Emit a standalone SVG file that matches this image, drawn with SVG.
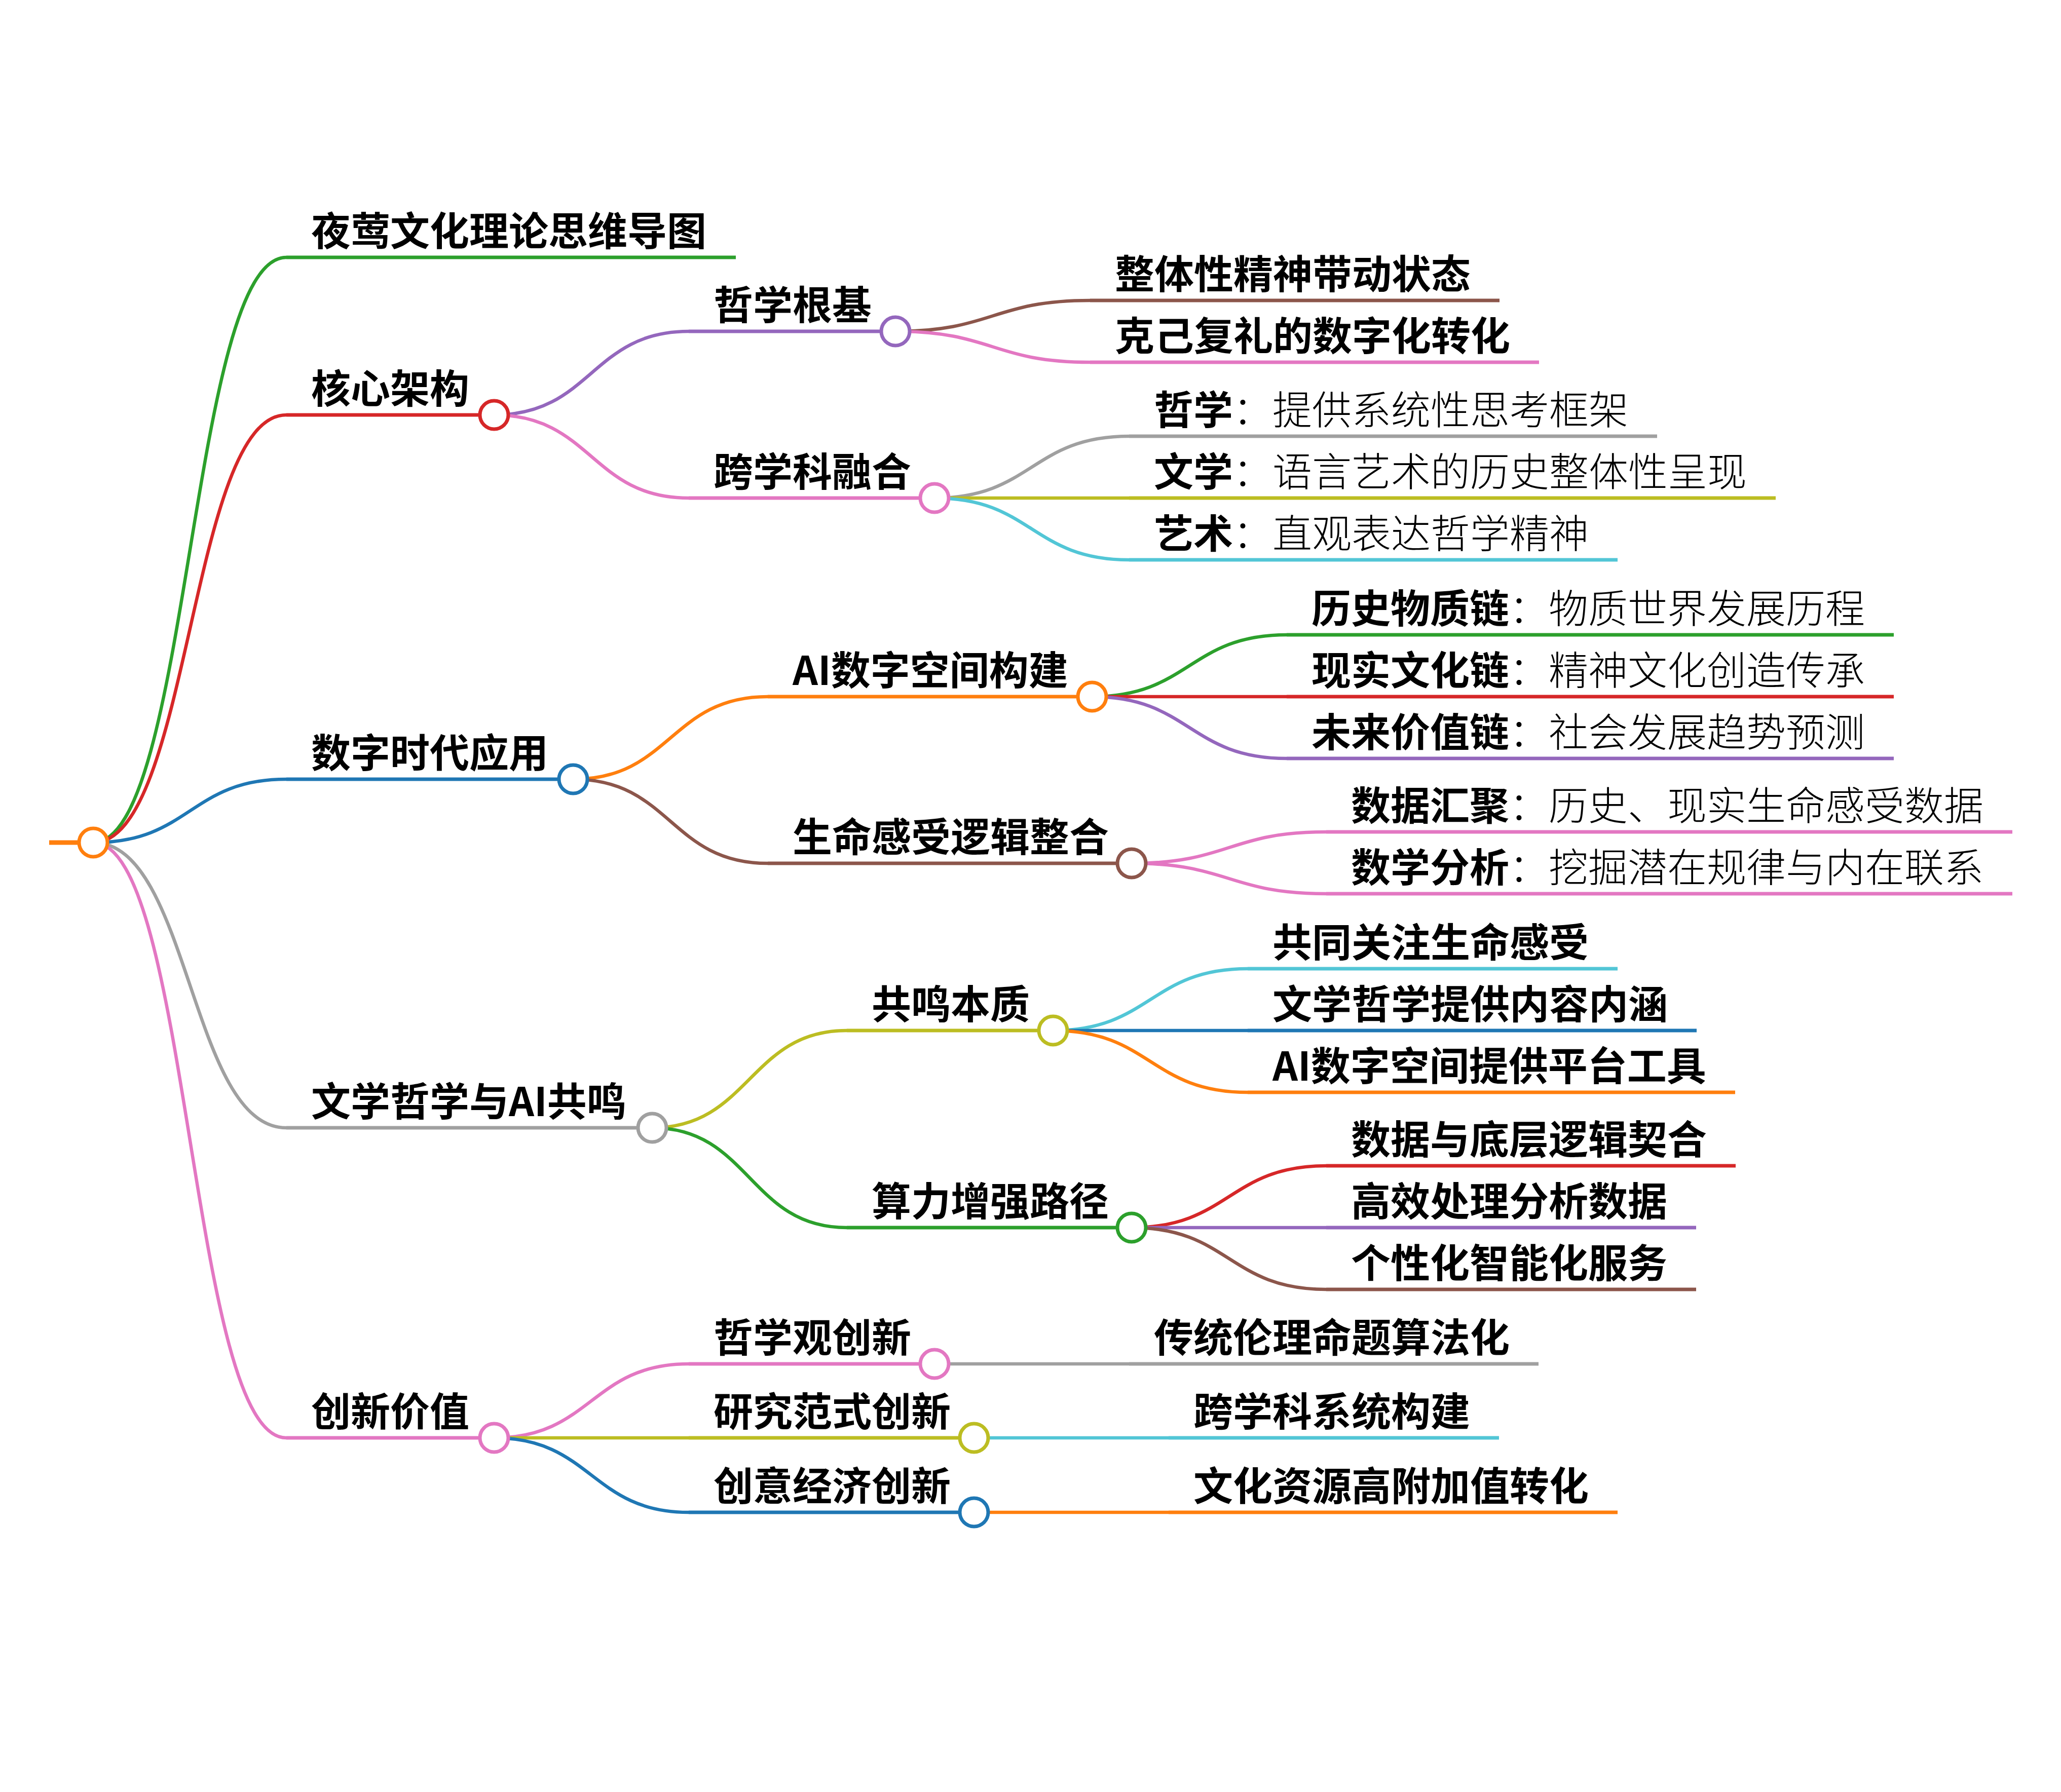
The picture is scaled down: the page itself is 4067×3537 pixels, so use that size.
<svg xmlns="http://www.w3.org/2000/svg" width="4067" height="3537" viewBox="0 0 4067 3537">
<style>
text{font-family:"Noto Sans CJK SC","Noto Sans",sans-serif;font-size:78px;font-weight:700;fill:#000}
.r{font-weight:300}
.ln{fill:none;stroke-width:7;stroke-linecap:butt}
.lk{fill:none;stroke-width:6.5}
circle{fill:#fff;stroke-width:7}
.c0{stroke:#1f77b4}.c1{stroke:#ff7f0e}.c2{stroke:#2ca02c}.c3{stroke:#d62728}.c4{stroke:#9467bd}
.c5{stroke:#8c564b}.c6{stroke:#e377c2}.c7{stroke:#a0a0a0}.c8{stroke:#bcbd22}.c9{stroke:#52c6d6}
</style>
<rect width="4067" height="3537" fill="#fff"/>
<g id="connectors">
<path class="lk c2" d="M184,1663 C375,1663 375,508 565,508"/>
<path class="lk c3" d="M184,1663 C375,1663 375,819 565,819"/>
<path class="lk c0" d="M184,1663 C375,1663 375,1538 565,1538"/>
<path class="lk c7" d="M184,1663 C375,1663 375,2226 565,2226"/>
<path class="lk c6" d="M184,1663 C375,1663 375,2838 565,2838"/>
<path class="lk c4" d="M975,819 C1167,819 1167,654 1359,654"/>
<path class="lk c6" d="M975,819 C1167,819 1167,983 1359,983"/>
<path class="lk c1" d="M1131,1538 C1323,1538 1323,1375 1515,1375"/>
<path class="lk c5" d="M1131,1538 C1323,1538 1323,1704 1515,1704"/>
<path class="lk c8" d="M1287,2226 C1479,2226 1479,2034 1671,2034"/>
<path class="lk c2" d="M1287,2226 C1479,2226 1479,2423 1671,2423"/>
<path class="lk c6" d="M975,2838 C1167,2838 1167,2692 1359,2692"/>
<path class="lk c8" d="M975,2838 C1167,2838 1167,2838 1359,2838"/>
<path class="lk c0" d="M975,2838 C1167,2838 1167,2985 1359,2985"/>
<path class="lk c5" d="M1767,654 C1959,654 1959,593 2151,593"/>
<path class="lk c6" d="M1767,654 C1959,654 1959,715 2151,715"/>
<path class="lk c7" d="M1844,983 C2036,983 2036,861 2228,861"/>
<path class="lk c8" d="M1844,983 C2036,983 2036,983 2228,983"/>
<path class="lk c9" d="M1844,983 C2036,983 2036,1105 2228,1105"/>
<path class="lk c2" d="M2155,1375 C2347,1375 2347,1253 2539,1253"/>
<path class="lk c3" d="M2155,1375 C2347,1375 2347,1375 2539,1375"/>
<path class="lk c4" d="M2155,1375 C2347,1375 2347,1497 2539,1497"/>
<path class="lk c6" d="M2233,1704 C2425,1704 2425,1642 2617,1642"/>
<path class="lk c6" d="M2233,1704 C2425,1704 2425,1764 2617,1764"/>
<path class="lk c9" d="M2078,2034 C2270,2034 2270,1912 2462,1912"/>
<path class="lk c0" d="M2078,2034 C2270,2034 2270,2034 2462,2034"/>
<path class="lk c1" d="M2078,2034 C2270,2034 2270,2156 2462,2156"/>
<path class="lk c3" d="M2233,2423 C2425,2423 2425,2301 2617,2301"/>
<path class="lk c4" d="M2233,2423 C2425,2423 2425,2423 2617,2423"/>
<path class="lk c5" d="M2233,2423 C2425,2423 2425,2545 2617,2545"/>
<path class="lk c7" d="M1844,2692 L2228,2692"/>
<path class="lk c9" d="M1922,2838 L2306,2838"/>
<path class="lk c1" d="M1922,2985 L2306,2985"/>
</g>
<g id="root"><path class="ln c1" d="M97,1663 H184" style="stroke-width:9"/><circle class="c1" cx="184" cy="1663" r="28"/></g>
<g id="n-title"><path class="ln c2" d="M565,508 H1452"/><text x="614" y="485">夜莺文化理论思维导图</text></g>
<g id="n-core"><path class="ln c3" d="M565,819 H975"/><text x="614" y="796">核心架构</text><circle class="c3" cx="975" cy="819" r="28"/></g>
<g id="n-digital"><path class="ln c0" d="M565,1538 H1131"/><text x="614" y="1515">数字时代应用</text><circle class="c0" cx="1131" cy="1538" r="28"/></g>
<g id="n-resonance"><path class="ln c7" d="M565,2226 H1287"/><text x="614" y="2203">文学哲学与AI共鸣</text><circle class="c7" cx="1287" cy="2226" r="28"/></g>
<g id="n-innovation"><path class="ln c6" d="M565,2838 H975"/><text x="614" y="2815">创新价值</text><circle class="c6" cx="975" cy="2838" r="28"/></g>
<g id="n-phil-root"><path class="ln c4" d="M1359,654 H1767"/><text x="1408" y="631">哲学根基</text><circle class="c4" cx="1767" cy="654" r="28"/></g>
<g id="n-interdisc"><path class="ln c6" d="M1359,983 H1844"/><text x="1408" y="960">跨学科融合</text><circle class="c6" cx="1844" cy="983" r="28"/></g>
<g id="n-ai-space"><path class="ln c1" d="M1515,1375 H2155"/><text x="1564" y="1352">AI数字空间构建</text><circle class="c1" cx="2155" cy="1375" r="28"/></g>
<g id="n-life-logic"><path class="ln c5" d="M1515,1704 H2233"/><text x="1564" y="1681">生命感受逻辑整合</text><circle class="c5" cx="2233" cy="1704" r="28"/></g>
<g id="n-essence"><path class="ln c8" d="M1671,2034 H2078"/><text x="1720" y="2011">共鸣本质</text><circle class="c8" cx="2078" cy="2034" r="28"/></g>
<g id="n-compute"><path class="ln c2" d="M1671,2423 H2233"/><text x="1720" y="2400">算力增强路径</text><circle class="c2" cx="2233" cy="2423" r="28"/></g>
<g id="n-phil-innov"><path class="ln c6" d="M1359,2692 H1844"/><text x="1408" y="2669">哲学观创新</text><circle class="c6" cx="1844" cy="2692" r="28"/></g>
<g id="n-research"><path class="ln c8" d="M1359,2838 H1922"/><text x="1408" y="2815">研究范式创新</text><circle class="c8" cx="1922" cy="2838" r="28"/></g>
<g id="n-creative"><path class="ln c0" d="M1359,2985 H1922"/><text x="1408" y="2962">创意经济创新</text><circle class="c0" cx="1922" cy="2985" r="28"/></g>
<g id="l-1"><path class="ln c5" d="M2151,593 H2959"/><text x="2200" y="570">整体性精神带动状态</text></g>
<g id="l-2"><path class="ln c6" d="M2151,715 H3037"/><text x="2200" y="692">克己复礼的数字化转化</text></g>
<g id="l-3"><path class="ln c7" d="M2228,861 H3270"/><text x="2277" y="838">哲学<tspan class="r">：提供系统性思考框架</tspan></text></g>
<g id="l-4"><path class="ln c8" d="M2228,983 H3504"/><text x="2277" y="960">文学<tspan class="r">：语言艺术的历史整体性呈现</tspan></text></g>
<g id="l-5"><path class="ln c9" d="M2228,1105 H3192"/><text x="2277" y="1082">艺术<tspan class="r">：直观表达哲学精神</tspan></text></g>
<g id="l-6"><path class="ln c2" d="M2539,1253 H3737"/><text x="2588" y="1230">历史物质链<tspan class="r">：物质世界发展历程</tspan></text></g>
<g id="l-7"><path class="ln c3" d="M2539,1375 H3737"/><text x="2588" y="1352">现实文化链<tspan class="r">：精神文化创造传承</tspan></text></g>
<g id="l-8"><path class="ln c4" d="M2539,1497 H3737"/><text x="2588" y="1474">未来价值链<tspan class="r">：社会发展趋势预测</tspan></text></g>
<g id="l-9"><path class="ln c6" d="M2617,1642 H3971"/><text x="2666" y="1619">数据汇聚<tspan class="r">：历史、现实生命感受数据</tspan></text></g>
<g id="l-10"><path class="ln c6" d="M2617,1764 H3971"/><text x="2666" y="1741">数学分析<tspan class="r">：挖掘潜在规律与内在联系</tspan></text></g>
<g id="l-11"><path class="ln c9" d="M2462,1912 H3192"/><text x="2511" y="1889">共同关注生命感受</text></g>
<g id="l-12"><path class="ln c0" d="M2462,2034 H3348"/><text x="2511" y="2011">文学哲学提供内容内涵</text></g>
<g id="l-13"><path class="ln c1" d="M2462,2156 H3424"/><text x="2511" y="2133">AI数字空间提供平台工具</text></g>
<g id="l-14"><path class="ln c3" d="M2617,2301 H3425"/><text x="2666" y="2278">数据与底层逻辑契合</text></g>
<g id="l-15"><path class="ln c4" d="M2617,2423 H3347"/><text x="2666" y="2400">高效处理分析数据</text></g>
<g id="l-16"><path class="ln c5" d="M2617,2545 H3347"/><text x="2666" y="2522">个性化智能化服务</text></g>
<g id="l-17"><path class="ln c7" d="M2228,2692 H3036"/><text x="2277" y="2669">传统伦理命题算法化</text></g>
<g id="l-18"><path class="ln c9" d="M2306,2838 H2958"/><text x="2355" y="2815">跨学科系统构建</text></g>
<g id="l-19"><path class="ln c1" d="M2306,2985 H3192"/><text x="2355" y="2962">文化资源高附加值转化</text></g>
</svg>
